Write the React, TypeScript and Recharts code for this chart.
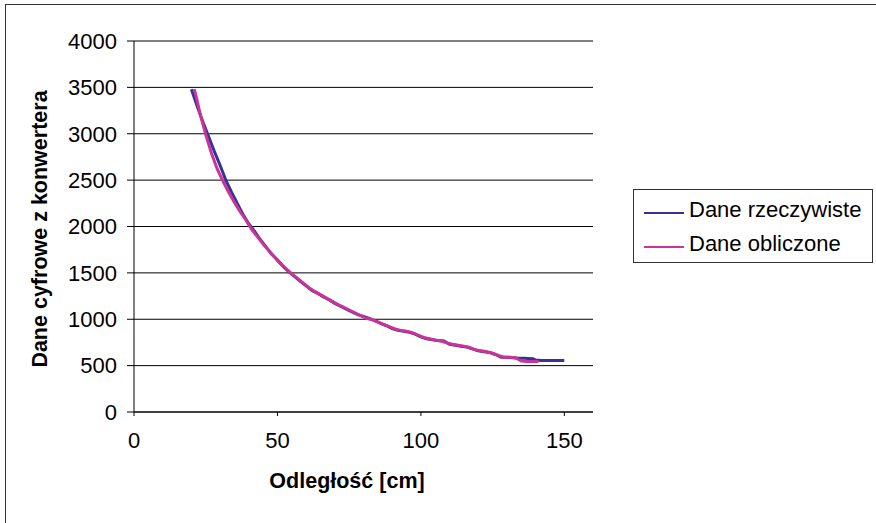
import React from "react"
import { LineChart, Line, XAxis, YAxis, CartesianGrid } from "recharts"

// odległość [cm] i odczyt z przetwornika - dane rzeczywiste
const realX = [20, 22, 24, 26, 28, 30, 32, 34, 36, 38, 40, 42, 44, 46, 48, 50, 52, 54, 56, 58, 60, 62, 64, 66, 68, 70, 72, 74, 76, 78, 80, 82, 84, 86, 88, 90, 92, 94, 96, 98, 100, 102, 104, 106, 108, 110, 112, 114, 116, 118, 120, 122, 124, 126, 128, 130, 132, 134, 136, 139, 140, 142, 146, 150]
const realY = [3480, 3300, 3130, 2970, 2810, 2660, 2500, 2370, 2250, 2130, 2030, 1950, 1860, 1780, 1700, 1640, 1570, 1510, 1460, 1410, 1360, 1310, 1280, 1240, 1210, 1170, 1140, 1110, 1080, 1050, 1030, 1010, 985, 955, 930, 900, 880, 870, 860, 840, 810, 790, 780, 770, 765, 730, 720, 710, 700, 680, 660, 650, 640, 620, 590, 590, 585, 580, 580, 575, 560, 555, 555, 555]

// dane obliczone
const calcX = [21, 22, 23, 25, 27, 29, 31, 33, 35, 37, 39, 41, 43, 45, 47, 49, 51, 53, 55, 57, 59, 61, 63, 65, 67, 69, 71, 73, 75, 77, 79, 81, 83, 85, 87, 89, 91, 93, 95, 97, 99, 101, 103, 105, 107, 109, 111, 113, 115, 117, 119, 121, 123, 125, 127, 129, 131, 133, 135, 137, 139, 141]
const calcY = [3480, 3360, 3220, 2990, 2790, 2620, 2490, 2370, 2260, 2160, 2070, 1970, 1890, 1810, 1740, 1670, 1600, 1545, 1490, 1440, 1390, 1340, 1300, 1265, 1230, 1195, 1160, 1130, 1100, 1070, 1040, 1010, 995, 970, 945, 920, 895, 880, 870, 855, 830, 805, 790, 775, 765, 745, 730, 720, 710, 695, 670, 660, 650, 635, 610, 590, 590, 585, 550, 545, 545, 545]

const xTicks = [0, 50, 100, 150]
const yTicks = [0, 500, 1000, 1500, 2000, 2500, 3000, 3500, 4000]

const realData = realX.map((x, i) => ({ x, y: realY[i] }))
const calcData = calcX.map((x, i) => ({ x, y: calcY[i] }))

const FONT = "'Liberation Sans', Arial, sans-serif"
const BLUE = "#333399"
const PINK = "#CC3399"

const legendItems = [
  { name: "Dane rzeczywiste", color: BLUE },
  { name: "Dane obliczone", color: PINK },
]

function LegendBox() {
  return (
    <div style={{ position: "absolute", left: 633, top: 189, width: 240, height: 74, border: "1px solid #333", boxSizing: "border-box", background: "#fff", paddingTop: 3 }}>
      {legendItems.map((it) => (
        <div key={it.name} style={{ display: "flex", alignItems: "center", height: 34, fontFamily: FONT, fontSize: 22, color: "#000" }}>
          <div style={{ width: 40, height: 2, background: it.color, marginLeft: 10, marginRight: 5, marginTop: 6 }} />
          <span>{it.name}</span>
        </div>
      ))}
    </div>
  )
}

export default function App() {
  return (
    <div style={{ position: "absolute", left: 0, top: 0, width: 876, height: 523, background: "#fff", fontFamily: FONT }}>
      <div style={{ position: "absolute", left: 5, top: 4, right: 0, bottom: 0, borderLeft: "1px solid #333", borderTop: "1px solid #333" }} />
      <LineChart width={876} height={523} data={realData} margin={{ top: 41, right: 283, left: 74, bottom: 81 }}>
        <CartesianGrid horizontal vertical={false} stroke="#000" />
        <XAxis type="number" dataKey="x" domain={[0, 160]} ticks={xTicks} height={30}
          tick={{ fill: "#000", fontSize: 22, fontFamily: FONT }} tickSize={4} tickMargin={16}
          axisLine={{ stroke: "#000" }} tickLine={{ stroke: "#000" }} allowDataOverflow />
        <YAxis type="number" domain={[0, 4000]} ticks={yTicks} width={60}
          tick={{ fill: "#000", fontSize: 22, fontFamily: FONT }} tickSize={7} tickMargin={10}
          axisLine={{ stroke: "#000" }} tickLine={{ stroke: "#000" }} />
        <Line data={realData} dataKey="y" name="Dane rzeczywiste" stroke={BLUE} strokeWidth={3} dot={false} isAnimationActive={false} />
        <Line data={calcData} dataKey="y" name="Dane obliczone" stroke={PINK} strokeWidth={3} dot={false} isAnimationActive={false} />
      </LineChart>
      <LegendBox />
      <div style={{ position: "absolute", left: 40, top: 229, transform: "translate(-50%, -50%) rotate(-90deg)", whiteSpace: "nowrap", fontWeight: "bold", fontSize: 21.5 }}>
        Dane cyfrowe z konwertera
      </div>
      <div style={{ position: "absolute", left: 347, top: 481, transform: "translate(-50%, -50%)", whiteSpace: "nowrap", fontWeight: "bold", fontSize: 21.5 }}>
        Odległość [cm]
      </div>
    </div>
  )
}
